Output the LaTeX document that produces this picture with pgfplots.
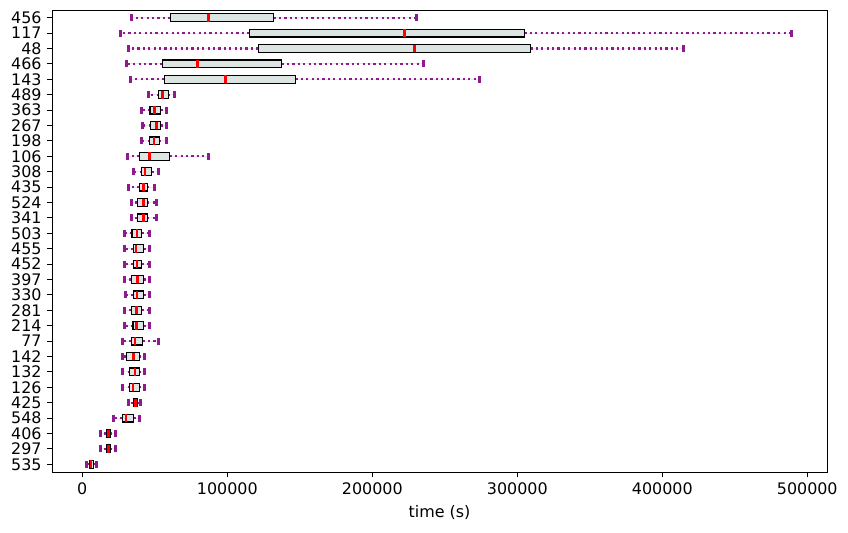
\documentclass[border=0pt]{standalone}
\usepackage{pgfplots}
\pgfplotsset{compat=1.18}
\usepgfplotslibrary{statistics}
\usepackage{fontspec}
\setmainfont{DejaVu Sans}
\definecolor{purp}{HTML}{8E1A8E}
\definecolor{boxfill}{HTML}{DDE5E2}
\pgfplotsset{
  /pgfplots/boxplot/draw/lower whisker/.code={%
    \draw[purp, line width=2.2bp, dash pattern=on 2.2bp off 3.2bp]
      (boxplot cs:\pgfplotsboxplotvalue{lower quartile}) -- (boxplot cs:\pgfplotsboxplotvalue{lower whisker});
    \draw[purp, line width=3bp]
      (boxplot whisker cs:\pgfplotsboxplotvalue{lower whisker},0) -- (boxplot whisker cs:\pgfplotsboxplotvalue{lower whisker},1);
  },
  /pgfplots/boxplot/draw/upper whisker/.code={%
    \draw[purp, line width=2.2bp, dash pattern=on 2.2bp off 3.2bp]
      (boxplot cs:\pgfplotsboxplotvalue{upper quartile}) -- (boxplot cs:\pgfplotsboxplotvalue{upper whisker});
    \draw[purp, line width=3bp]
      (boxplot whisker cs:\pgfplotsboxplotvalue{upper whisker},0) -- (boxplot whisker cs:\pgfplotsboxplotvalue{upper whisker},1);
  },
}
\newcommand{\bx}[6]{\addplot[black, line width=1.2bp, fill=boxfill,
   boxplot prepared={draw position=#1, lower whisker=#2, lower quartile=#3, median=#4, upper quartile=#5, upper whisker=#6,
   box extend=0.5, whisker extend=0.45,
   every median/.style={red, line width=2.8bp}}] coordinates {};}
\begin{document}
\fontsize{15.7bp}{18bp}\selectfont
\begin{tikzpicture}
\begin{axis}[
  name=ax,
  scale only axis,
  width=775bp, height=462bp,
  xmin=-20900, xmax=513600,
  ymin=0.5, ymax=30.5,
  xtick={0,100000,200000,300000,400000,500000},
  scaled x ticks=false,
  xticklabel style={/pgf/number format/fixed, /pgf/number format/1000 sep={}},
  /pgf/number format/assume math mode=true,
  ytick={1,...,30},
  yticklabels={535,297,406,548,425,126,132,142,77,214,281,330,397,452,455,503,341,524,435,308,106,198,267,363,489,143,466,48,117,456},
  tick align=outside,
  major tick length=5bp,
  xtick pos=bottom, ytick pos=left,
  axis line style={line width=0.9bp},
  every tick/.style={black, line width=0.9bp},
  tick label style={font=\fontsize{15.9bp}{18bp}\selectfont},
  label style={font=\fontsize{15.9bp}{18bp}\selectfont},
  xlabel={time (s)},
  clip=false,
]
\bx{30}{33800}{60700}{86900}{132000}{230400}
\bx{29}{26200}{115200}{222100}{304900}{489000}
\bx{28}{31700}{121400}{229000}{309000}{414500}
\bx{27}{30300}{55200}{79300}{137500}{235200}
\bx{26}{33100}{56600}{98600}{146900}{273800}
\bx{25}{45800}{52700}{55200}{59300}{63500}
\bx{24}{40500}{46700}{49900}{53800}{58200}
\bx{23}{41700}{47200}{51000}{53800}{58200}
\bx{22}{40700}{46500}{49500}{53100}{57900}
\bx{21}{31000}{39300}{46200}{60300}{87200}
\bx{20}{35000}{41000}{43200}{47900}{52700}
\bx{19}{32200}{39300}{42100}{44800}{49900}
\bx{18}{33600}{37900}{42100}{44800}{51300}
\bx{17}{33600}{37900}{42100}{44800}{51300}
\bx{16}{29000}{34300}{37700}{40700}{46500}
\bx{15}{28800}{35200}{37000}{42100}{46500}
\bx{14}{29000}{35200}{37700}{40700}{46500}
\bx{13}{28800}{33800}{37900}{42100}{46500}
\bx{12}{30100}{35400}{37700}{42100}{46500}
\bx{11}{28800}{34000}{37300}{41000}{46500}
\bx{10}{28800}{35000}{37500}{42100}{46500}
\bx{9}{27400}{33800}{36300}{41600}{52700}
\bx{8}{27400}{30600}{35400}{39300}{42600}
\bx{7}{27400}{32700}{36300}{39300}{42600}
\bx{6}{27400}{32700}{35000}{39300}{42600}
\bx{5}{32200}{35200}{36600}{37900}{39800}
\bx{4}{21700}{27600}{30100}{35200}{39600}
\bx{3}{12700}{16600}{17900}{19300}{22600}
\bx{2}{12700}{16600}{18200}{19300}{22600}
\bx{1}{3200}{4800}{6000}{7600}{9700}
\end{axis}
\path ([shift={(-52bp,-61bp)}]ax.south west) rectangle ([shift={(21bp,10bp)}]ax.north east);
\end{tikzpicture}
\end{document}
